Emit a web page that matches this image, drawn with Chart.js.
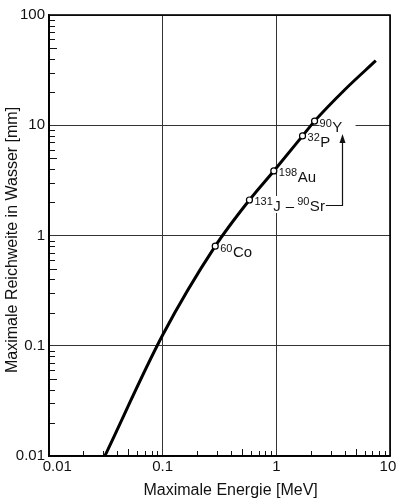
<!DOCTYPE html>
<html>
<head>
<meta charset="utf-8">
<script src="https://cdn.jsdelivr.net/npm/chart.js@4"></script>
<style>
  html, body { margin: 0; padding: 0; background: #fff; }
  #wrap { width: 396px; height: 500px; }
</style>
</head>
<body>
<div id="wrap"><canvas id="rangeChart"></canvas></div>
<script>
// range curve (energy MeV, range mm)
const curveEnergy = [0.031, 0.1, 0.29, 0.58, 0.95, 1.7, 2.17, 4, 7.5];
const curveRange = [0.01, 0.125, 0.8, 2.1, 3.85, 8.0, 10.9, 21, 38.5];

// marked nuclides
const massNumbers = ['60', '131', '198', '32', '90'];
const symbols = ['Co', 'J', 'Au', 'P', 'Y'];
const nuclideEnergy = [0.29, 0.58, 0.95, 1.7, 2.17];
const nuclideRange = [0.8, 2.1, 3.85, 8.0, 10.9];

// axis ticks
const xTicks = [0.01, 0.1, 1, 10];
const xTickLabels = ['0.01', '0.1', '1', '10'];
const yTicks = [0.01, 0.1, 1, 10, 100];
const yTickLabels = ['0.01', '0.1', '1', '10', '100'];

const FONT = '"Liberation Sans", Arial, sans-serif';

// minor ticks inside the frame + top/right border
const framePlugin = {
    id: 'frame',
    afterDraw(chart) {
        const ctx = chart.ctx;
        const a = chart.chartArea;
        const xs = chart.scales.x, ys = chart.scales.y;
        ctx.save();
        ctx.strokeStyle = '#111';
        ctx.lineWidth = 1;
        for (let d = 0; d < 4; d++) {
            const base = Math.pow(10, d - 2);
            for (let k = 2; k <= 9; k++) {
                const len = k === 5 ? 7 : 5;
                const px = Math.round(xs.getPixelForValue(base * k)) + 0.5;
                ctx.beginPath();
                ctx.moveTo(px, a.bottom);
                ctx.lineTo(px, a.bottom - len);
                ctx.stroke();
                const py = Math.round(ys.getPixelForValue(base * k)) + 0.5;
                ctx.beginPath();
                ctx.moveTo(a.left, py);
                ctx.lineTo(a.left + len + 1, py);
                ctx.stroke();
            }
        }
        ctx.lineWidth = 1.6;
        ctx.strokeStyle = '#000';
        ctx.strokeRect(a.left, a.top, a.right - a.left, a.bottom - a.top);
        ctx.restore();
    }
};

// nuclide labels and the 90Sr -> 90Y arrow
const labelPlugin = {
    id: 'nuclideLabels',
    beforeDatasetsDraw(chart) {
        // white patches behind the labels (they cut the grid lines)
        const ctx = chart.ctx;
        const xs = chart.scales.x, ys = chart.scales.y;
        ctx.save();
        ctx.fillStyle = '#fff';
        for (let i = 0; i < symbols.length; i++) {
            const px = xs.getPixelForValue(nuclideEnergy[i]);
            const py = ys.getPixelForValue(nuclideRange[i]);
            ctx.fillRect(px + 5, py - 4, i === 4 ? 36 : 26, 17);
        }
        ctx.restore();
    },
    afterDatasetsDraw(chart) {
        const ctx = chart.ctx;
        const xs = chart.scales.x, ys = chart.scales.y;
        const supFont = '11px ' + FONT;
        const mainFont = '15px ' + FONT;
        ctx.save();
        ctx.fillStyle = '#111';
        ctx.textBaseline = 'alphabetic';
        const ends = [];
        for (let i = 0; i < symbols.length; i++) {
            const px = xs.getPixelForValue(nuclideEnergy[i]);
            const py = ys.getPixelForValue(nuclideRange[i]);
            let x = px + 5;
            ctx.font = supFont;
            ctx.fillText(massNumbers[i], x, py + 5.5);
            x += ctx.measureText(massNumbers[i]).width + 0.5;
            ctx.font = mainFont;
            ctx.fillText(symbols[i], x, py + 11);
            x += ctx.measureText(symbols[i]).width;
            ends.push({x: x, y: py});
        }
        // "131J – 90Sr" with bracket arrow up to 90Y
        const e = ends[1];
        let x = e.x + 5;
        ctx.font = mainFont;
        ctx.fillText('\u2013', x, e.y + 11);
        x += ctx.measureText('\u2013').width + 3;
        ctx.font = supFont;
        ctx.fillText('90', x, e.y + 5.5);
        x += ctx.measureText('90').width + 0.5;
        ctx.font = mainFont;
        ctx.fillText('Sr', x, e.y + 11);
        x += ctx.measureText('Sr').width + 1;
        const ax = Math.round(xs.getPixelForValue(nuclideEnergy[4])) + 27.5;
        const ly = Math.round(e.y) + 5.5;
        const tipY = ys.getPixelForValue(nuclideRange[3]) - 2;
        ctx.strokeStyle = '#111';
        ctx.lineWidth = 1.2;
        ctx.beginPath();
        ctx.moveTo(x, ly);
        ctx.lineTo(ax, ly);
        ctx.lineTo(ax, tipY + 6);
        ctx.stroke();
        ctx.beginPath();
        ctx.moveTo(ax, tipY);
        ctx.lineTo(ax - 3, tipY + 9);
        ctx.lineTo(ax + 3, tipY + 9);
        ctx.closePath();
        ctx.fill();
        ctx.restore();
    }
};

const ctx = document.getElementById('rangeChart').getContext('2d');
new Chart(ctx, {
    type: 'line',
    data: {
        datasets: [{
            label: 'Reichweite',
            data: curveEnergy.map((e, i) => ({x: e, y: curveRange[i]})),
            borderColor: '#000',
            borderWidth: 3,
            pointRadius: 0,
            cubicInterpolationMode: 'monotone',
            order: 2
        }, {
            label: 'Nuklide',
            data: nuclideEnergy.map((e, i) => ({x: e, y: nuclideRange[i]})),
            showLine: false,
            pointRadius: 3,
            pointBackgroundColor: '#fff',
            pointBorderColor: '#000',
            pointBorderWidth: 1.2,
            order: 1
        }]
    },
    options: {
        responsive: true,
        maintainAspectRatio: false,
        animation: false,
        layout: { padding: { top: 15, right: 6, left: 0, bottom: 0 } },
        plugins: { legend: { display: false }, tooltip: { enabled: false } },
        scales: {
            x: {
                type: 'logarithmic',
                min: 0.01, max: 10,
                afterBuildTicks: s => { s.ticks = xTicks.map(v => ({value: v})); },
                afterFit: s => { s.height = 44; s.paddingRight = 0; s.paddingLeft = 0; },
                ticks: {
                    color: '#111',
                    font: { family: FONT, size: 15 },
                    padding: 2,
                    maxRotation: 0,
                    callback: v => {
                        const i = xTicks.indexOf(v);
                        if (i === 0) return '    ' + xTickLabels[0];
                        if (i === xTicks.length - 1) return xTickLabels[i] + ' ';
                        return xTickLabels[i];
                    }
                },
                grid: { color: '#333', lineWidth: 1, drawTicks: false },
                border: { color: '#000', width: 1.6 },
                title: {
                    display: true, text: '     Maximale Energie [MeV]',
                    color: '#111', font: { family: FONT, size: 16 },
                    padding: { top: 0, bottom: 0 }
                }
            },
            y: {
                type: 'logarithmic',
                min: 0.01, max: 100,
                afterBuildTicks: s => { s.ticks = yTicks.map(v => ({value: v})); },
                afterFit: s => { s.width = 49; s.paddingTop = 0; s.paddingBottom = 0; },
                ticks: {
                    color: '#111',
                    font: { family: FONT, size: 15 },
                    padding: 4,
                    callback: v => yTickLabels[yTicks.indexOf(v)]
                },
                grid: { color: '#333', lineWidth: 1, drawTicks: false },
                border: { color: '#000', width: 1.6 },
                title: {
                    display: true, text: 'Maximale Reichweite in Wasser [mm]  ',
                    color: '#111', font: { family: FONT, size: 16 },
                    padding: { top: 3, bottom: 0 }
                }
            }
        }
    },
    plugins: [framePlugin, labelPlugin]
});
</script>
</body>
</html>
